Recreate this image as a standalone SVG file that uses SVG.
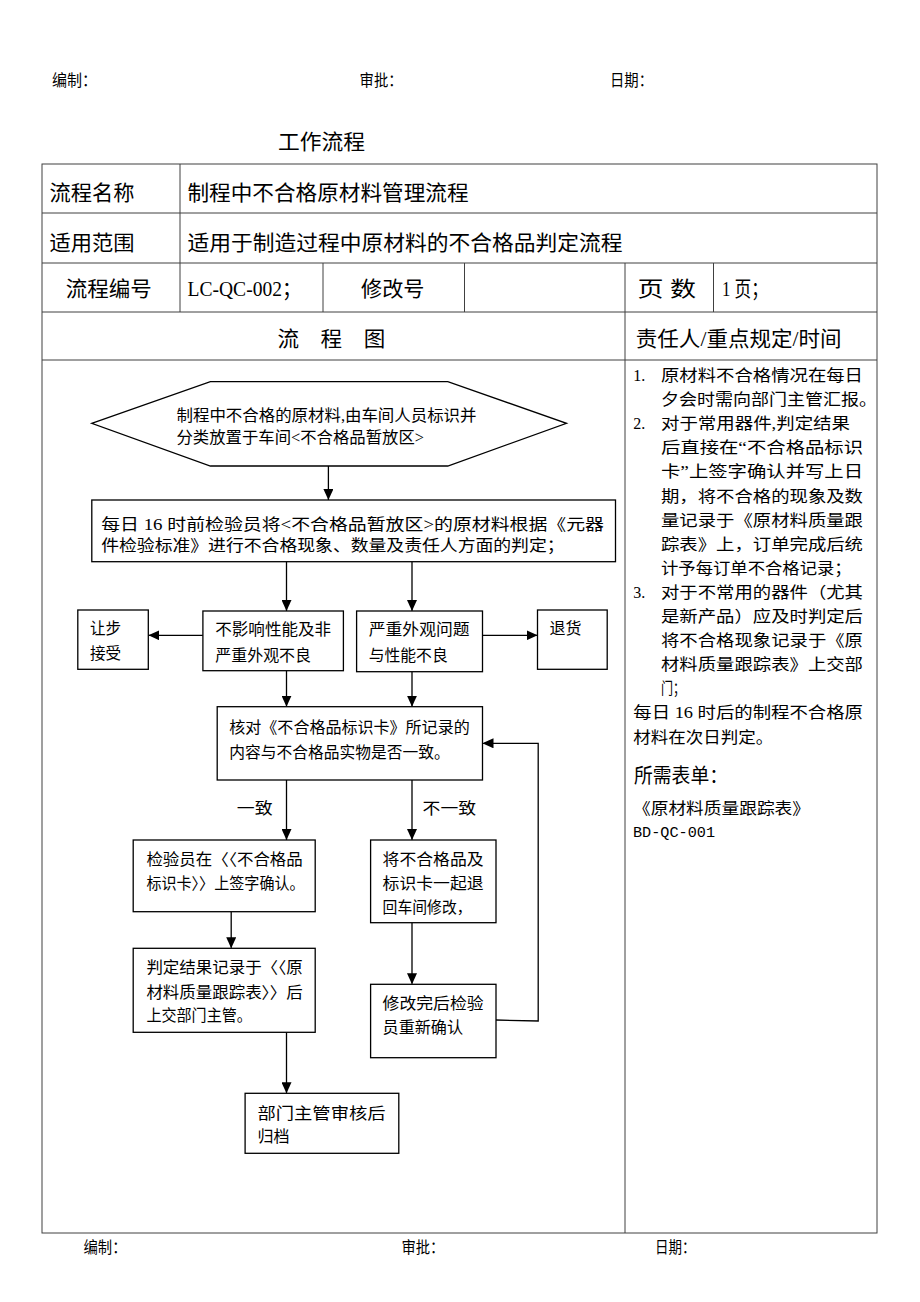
<svg xmlns="http://www.w3.org/2000/svg" width="920" height="1302" viewBox="0 0 920 1302">
<style>
.t{font-family:"Liberation Serif","Noto Sans CJK SC",serif;fill:#000}
.s15{font-size:16px}
.s16{font-size:16px}
.s20{font-size:20px}
.s21{font-size:21px}
.mono{font-family:"Liberation Mono","Noto Sans CJK SC",monospace;font-size:15px;fill:#000}
.grid{stroke:#404040;stroke-width:1;fill:none}
.box{fill:#fff;stroke:#000;stroke-width:1.3}
.conn{stroke:#000;stroke-width:1.3;fill:none}
</style>
<defs>
<marker id="arr" markerUnits="userSpaceOnUse" markerWidth="10" markerHeight="10" refX="11" refY="5" orient="auto">
<path d="M0,0 L11,5 L0,10 z" fill="#000"/>
</marker>
</defs>
<rect width="920" height="1302" fill="#fff"/>

<g id="header">
<text class="t s15" x="52" y="86" textLength="45" lengthAdjust="spacingAndGlyphs">编制：</text>
<text class="t s15" x="359.6" y="86" textLength="43" lengthAdjust="spacingAndGlyphs">审批：</text>
<text class="t s15" x="610" y="86" textLength="43" lengthAdjust="spacingAndGlyphs">日期：</text>
<text class="t s21" x="278" y="149" textLength="87" lengthAdjust="spacingAndGlyphs">工作流程</text>
</g>

<g id="table">
<rect class="grid" x="42" y="164" width="835" height="1069"/>
<line class="grid" x1="42" y1="213" x2="877" y2="213"/>
<line class="grid" x1="42" y1="263" x2="877" y2="263"/>
<line class="grid" x1="42" y1="312" x2="877" y2="312"/>
<line class="grid" x1="42" y1="360" x2="877" y2="360"/>
<line class="grid" x1="180" y1="164" x2="180" y2="312"/>
<line class="grid" x1="323" y1="263" x2="323" y2="312"/>
<line class="grid" x1="464.5" y1="263" x2="464.5" y2="312"/>
<line class="grid" x1="625" y1="263" x2="625" y2="1233"/>
<line class="grid" x1="713.5" y1="263" x2="713.5" y2="312"/>
<text class="t s21" x="49.5" y="199.5" textLength="85" lengthAdjust="spacingAndGlyphs">流程名称</text>
<text class="t s21" x="187.5" y="199.5" textLength="281" lengthAdjust="spacingAndGlyphs">制程中不合格原材料管理流程</text>
<text class="t s21" x="49.5" y="249.5" textLength="85" lengthAdjust="spacingAndGlyphs">适用范围</text>
<text class="t s21" x="187.5" y="249.5" textLength="435" lengthAdjust="spacingAndGlyphs">适用于制造过程中原材料的不合格品判定流程</text>
<text class="t s21" x="65.7" y="296" textLength="86" lengthAdjust="spacingAndGlyphs">流程编号</text>
<text class="t s21" x="187.5" y="296" textLength="114" lengthAdjust="spacingAndGlyphs">LC-QC-002；</text>
<text class="t s21" x="361" y="296" textLength="63.5" lengthAdjust="spacingAndGlyphs">修改号</text>
<text class="t s21" x="637.4" y="296" textLength="58.6" lengthAdjust="spacingAndGlyphs">页 数</text>
<text class="t s21" x="722" y="296" textLength="46" lengthAdjust="spacingAndGlyphs">1 页；</text>
<text class="t s21" x="277.5" y="346" textLength="107.7" lengthAdjust="spacingAndGlyphs">流　程　图</text>
<text class="t s21" x="635.8" y="346" textLength="205.8" lengthAdjust="spacingAndGlyphs">责任人/重点规定/时间</text>
</g>

<g id="connectors">
<line class="conn" x1="328.4" y1="466" x2="328.4" y2="500" marker-end="url(#arr)"/>
<line class="conn" x1="286.5" y1="561.7" x2="286.5" y2="611" marker-end="url(#arr)"/>
<line class="conn" x1="412" y1="561.7" x2="412" y2="611" marker-end="url(#arr)"/>
<line class="conn" x1="202.9" y1="635.3" x2="148.3" y2="635.3" marker-end="url(#arr)"/>
<line class="conn" x1="482.5" y1="635.3" x2="537.5" y2="635.3" marker-end="url(#arr)"/>
<line class="conn" x1="286.5" y1="670.7" x2="286.5" y2="706.7" marker-end="url(#arr)"/>
<line class="conn" x1="412" y1="671.7" x2="412" y2="706.7" marker-end="url(#arr)"/>
<line class="conn" x1="286.5" y1="780" x2="286.5" y2="840" marker-end="url(#arr)"/>
<line class="conn" x1="412" y1="780" x2="412" y2="840" marker-end="url(#arr)"/>
<line class="conn" x1="231.2" y1="911.7" x2="231.2" y2="948.3" marker-end="url(#arr)"/>
<line class="conn" x1="412" y1="922.7" x2="412" y2="984.3" marker-end="url(#arr)"/>
<line class="conn" x1="286.5" y1="1032.3" x2="286.5" y2="1093.3" marker-end="url(#arr)"/>
<polyline class="conn" points="496,1020 538.2,1021 538.2,743.3 482.5,743.3" marker-end="url(#arr)"/>
<text class="t s16" x="236.8" y="814.3" textLength="35.8" lengthAdjust="spacingAndGlyphs">一致</text>
<text class="t s16" x="422.6" y="814.3" textLength="53.4" lengthAdjust="spacingAndGlyphs">不一致</text>
</g>

<g id="n-start">
<polygon class="box" points="91.7,423.3 210.4,381.7 447.8,381.7 566.5,423.3 447.8,466 210.4,466"/>
<text class="t s16" x="176.5" y="421" textLength="300" lengthAdjust="spacingAndGlyphs">制程中不合格的原材料,由车间人员标识并</text>
<text class="t s16" x="176.5" y="443" textLength="247.5" lengthAdjust="spacingAndGlyphs">分类放置于车间&lt;不合格品暂放区&gt;</text>
</g>

<g id="n-judge">
<rect class="box" x="91.8" y="500" width="523.7" height="61.7"/>
<text class="t s16" x="101.2" y="529.5" textLength="502.8" lengthAdjust="spacingAndGlyphs">每日 16 时前检验员将&lt;不合格品暂放区&gt;的原材料根据《元器</text>
<text class="t s16" x="101.2" y="550.5" textLength="463.4" lengthAdjust="spacingAndGlyphs">件检验标准》进行不合格现象、数量及责任人方面的判定；</text>
</g>

<g id="n-accept">
<rect class="box" x="77.8" y="610" width="70.5" height="59.3"/>
<text class="t s16" x="89.9" y="634" textLength="31.2" lengthAdjust="spacingAndGlyphs">让步</text>
<text class="t s16" x="89.9" y="658.7" textLength="31.2" lengthAdjust="spacingAndGlyphs">接受</text>
</g>

<g id="n-minor">
<rect class="box" x="202.9" y="611" width="140.5" height="59.7"/>
<text class="t s16" x="215.3" y="635" textLength="115.7" lengthAdjust="spacingAndGlyphs">不影响性能及非</text>
<text class="t s16" x="215.3" y="661" textLength="95.7" lengthAdjust="spacingAndGlyphs">严重外观不良</text>
</g>

<g id="n-major">
<rect class="box" x="356.6" y="611" width="125.9" height="60.7"/>
<text class="t s16" x="368.7" y="635" textLength="101" lengthAdjust="spacingAndGlyphs">严重外观问题</text>
<text class="t s16" x="368.7" y="661" textLength="79" lengthAdjust="spacingAndGlyphs">与性能不良</text>
</g>

<g id="n-return">
<rect class="box" x="537.5" y="610" width="69.7" height="59.3"/>
<text class="t s16" x="549.5" y="634" textLength="32" lengthAdjust="spacingAndGlyphs">退货</text>
</g>

<g id="n-check">
<rect class="box" x="217.2" y="706.7" width="265.3" height="73.3"/>
<text class="t s16" x="229.3" y="732.7" textLength="240.4" lengthAdjust="spacingAndGlyphs">核对《不合格品标识卡》所记录的</text>
<text class="t s16" x="229.3" y="757.7" textLength="220.4" lengthAdjust="spacingAndGlyphs">内容与不合格品实物是否一致。</text>
</g>

<g id="n-sign">
<rect class="box" x="133.2" y="840" width="182" height="71.7"/>
<text class="t s16" x="146.4" y="865.3" textLength="156.4" lengthAdjust="spacingAndGlyphs">检验员在〈〈不合格品</text>
<text class="t s16" x="146.4" y="888.7" textLength="158.2" lengthAdjust="spacingAndGlyphs">标识卡〉〉上签字确认。</text>
</g>

<g id="n-back">
<rect class="box" x="370.6" y="840" width="125.4" height="82.7"/>
<text class="t s16" x="382.6" y="865.3" textLength="101" lengthAdjust="spacingAndGlyphs">将不合格品及</text>
<text class="t s16" x="382.6" y="889.3" textLength="101" lengthAdjust="spacingAndGlyphs">标识卡一起退</text>
<text class="t s16" x="382.6" y="913.3" textLength="89" lengthAdjust="spacingAndGlyphs">回车间修改，</text>
</g>

<g id="n-record">
<rect class="box" x="133.2" y="948.3" width="182" height="84"/>
<text class="t s16" x="146.4" y="973.3" textLength="156.4" lengthAdjust="spacingAndGlyphs">判定结果记录于〈〈原</text>
<text class="t s16" x="146.4" y="997.7" textLength="156.4" lengthAdjust="spacingAndGlyphs">材料质量跟踪表〉〉后</text>
<text class="t s16" x="146.4" y="1021" textLength="105.5" lengthAdjust="spacingAndGlyphs">上交部门主管。</text>
</g>

<g id="n-recheck">
<rect class="box" x="370.6" y="984.3" width="125.4" height="73.4"/>
<text class="t s16" x="382.6" y="1009.3" textLength="101" lengthAdjust="spacingAndGlyphs">修改完后检验</text>
<text class="t s16" x="382.6" y="1032.7" textLength="80.4" lengthAdjust="spacingAndGlyphs">员重新确认</text>
</g>

<g id="n-archive">
<rect class="box" x="245.1" y="1093.3" width="153.7" height="60"/>
<text class="t s16" x="257.5" y="1118.7" textLength="128" lengthAdjust="spacingAndGlyphs">部门主管审核后</text>
<text class="t s16" x="257.5" y="1142" textLength="32" lengthAdjust="spacingAndGlyphs">归档</text>
</g>

<g id="notes">
<text class="t s16" x="633.3" y="381">1.</text>
<text class="t s16" x="661" y="381" textLength="202" lengthAdjust="spacingAndGlyphs">原材料不合格情况在每日</text>
<text class="t s16" x="661" y="405.1" textLength="216" lengthAdjust="spacingAndGlyphs">夕会时需向部门主管汇报。</text>
<text class="t s16" x="633.3" y="429.2">2.</text>
<text class="t s16" x="661" y="429.2" textLength="189" lengthAdjust="spacingAndGlyphs">对于常用器件,判定结果</text>
<text class="t s16" x="661" y="453.3" textLength="202" lengthAdjust="spacingAndGlyphs">后直接在“不合格品标识</text>
<text class="t s16" x="661" y="477.4" textLength="202" lengthAdjust="spacingAndGlyphs">卡”上签字确认并写上日</text>
<text class="t s16" x="661" y="501.5" textLength="202" lengthAdjust="spacingAndGlyphs">期，将不合格的现象及数</text>
<text class="t s16" x="661" y="525.6" textLength="202" lengthAdjust="spacingAndGlyphs">量记录于《原材料质量跟</text>
<text class="t s16" x="661" y="549.7" textLength="202" lengthAdjust="spacingAndGlyphs">踪表》上，订单完成后统</text>
<text class="t s16" x="661" y="573.8" textLength="190.7" lengthAdjust="spacingAndGlyphs">计予每订单不合格记录；</text>
<text class="t s16" x="633.3" y="597.9">3.</text>
<text class="t s16" x="661" y="597.9" textLength="202" lengthAdjust="spacingAndGlyphs">对于不常用的器件（尤其</text>
<text class="t s16" x="661" y="622" textLength="202" lengthAdjust="spacingAndGlyphs">是新产品）应及时判定后</text>
<text class="t s16" x="661" y="646.1" textLength="202" lengthAdjust="spacingAndGlyphs">将不合格现象记录于《原</text>
<text class="t s16" x="661" y="670.2" textLength="202" lengthAdjust="spacingAndGlyphs">材料质量跟踪表》上交部</text>
<text class="t s16" x="661" y="694.3" textLength="24" lengthAdjust="spacingAndGlyphs">门；</text>
<text class="t s16" x="633.3" y="718.4" textLength="229.7" lengthAdjust="spacingAndGlyphs">每日 16 时后的制程不合格原</text>
<text class="t s16" x="633.3" y="742.5" textLength="140" lengthAdjust="spacingAndGlyphs">材料在次日判定。</text>
<text class="t s20" x="634" y="782.6" textLength="94" lengthAdjust="spacingAndGlyphs">所需表单：</text>
<text class="t s16" x="633" y="814.3" textLength="177" lengthAdjust="spacingAndGlyphs">《原材料质量跟踪表》</text>
<text class="mono" x="633" y="837" textLength="82" lengthAdjust="spacingAndGlyphs">BD-QC-001</text>
</g>

<g id="footer">
<text class="t s15" x="83.5" y="1252.5" textLength="43" lengthAdjust="spacingAndGlyphs">编制：</text>
<text class="t s15" x="401.4" y="1252.5" textLength="43" lengthAdjust="spacingAndGlyphs">审批：</text>
<text class="t s15" x="655" y="1252.5" textLength="40.5" lengthAdjust="spacingAndGlyphs">日期：</text>
</g>
</svg>
